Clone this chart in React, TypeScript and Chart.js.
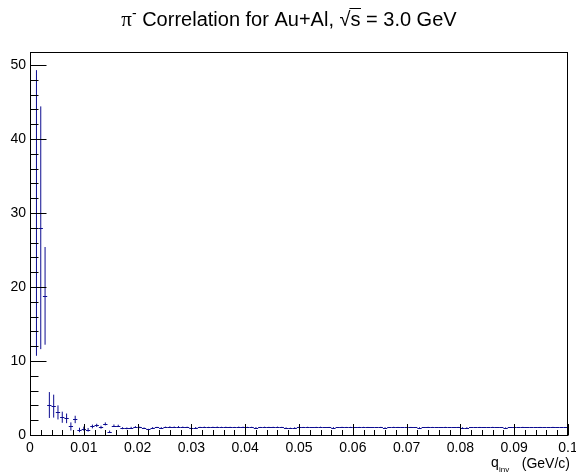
import React, { useEffect, useRef } from 'react';
import { Chart, registerables } from 'chart.js';

Chart.register(...registerables);

// Histogram definition: 125 bins of width 0.0008 GeV/c over [0, 0.1]
const BIN_WIDTH = 0.0008;
const Q_MIN = 0;
const Q_MAX = 0.1;
const Y_MIN = 0;
const Y_MAX = 51.75;

const X_TICKS = [0, 0.01, 0.02, 0.03, 0.04, 0.05, 0.06, 0.07, 0.08, 0.09, 0.1];
const X_TICK_LABELS = ['0', '0.01', '0.02', '0.03', '0.04', '0.05', '0.06', '0.07', '0.08', '0.09', '0.1'];
const Y_TICKS = [0, 10, 20, 30, 40, 50];
const Y_TICK_LABELS = ['0', '10', '20', '30', '40', '50'];

// Correlation value per bin (bins 1..125)
const CORRELATION = [
  0, 30.0, 28.0, 18.8, 4.05, 3.9, 3.05, 2.4, 2.25, 1.15,
  2.1, 0.68, 0.85, 0.7, 1.15, 1.3, 1.05, 1.5, 0.45, 1.26,
  1.24, 0.92, 0.9, 0.98, 1.08, 1.03, 0.92, 0.75, 0.98,
  1.02, 0.98, 1.05, 1.10, 1.07, 1.12, 1.06, 1.04, 0.98, 1.00, 1.03, 1.05, 1.02, 1.04, 1.06, 1.03,
  1.05, 1.04, 1.02, 1.06, 1.05, 1.03, 1.04, 1.00, 1.02, 1.05, 1.03, 1.04, 1.06, 1.03, 0.96, 0.92,
  0.98, 1.04, 1.03, 1.05, 1.02, 1.04, 1.06, 1.02, 1.03, 1.00, 1.02, 1.05, 1.03, 1.04, 1.02, 1.03,
  1.05, 1.04, 1.02, 1.03, 1.05, 1.01, 1.03, 1.06, 1.04, 1.02, 1.03, 1.04, 1.02, 1.01, 1.03, 1.05,
  1.04, 1.02, 1.03, 1.05, 1.03, 1.02, 1.04, 1.01, 1.00, 1.03, 1.02, 1.04, 1.03, 1.02, 1.05, 1.03,
  1.02, 1.01, 1.03, 1.02, 1.04, 1.06, 1.03, 1.02, 1.03, 1.05, 1.04, 1.02, 1.06, 1.04, 1.03, 1.02,
];

// Statistical error per bin
const ERRORS = [
  0, 19.3, 16.4, 6.6, 1.75, 1.55, 0.95, 0.75, 0.65, 0.55,
  0.5, 0.3, 0.28, 0.25, 0.25, 0.22, 0.2, 0.2, 0.15, 0.16,
  0.15, 0.13, 0.12, 0.12, 0.11, 0.1, 0.1, 0.09, 0.09,
  0.08, 0.08, 0.08, 0.08, 0.08, 0.08, 0.08, 0.08, 0.08, 0.08, 0.08, 0.08, 0.08, 0.08, 0.08, 0.08,
  0.07, 0.07, 0.07, 0.07, 0.07, 0.07, 0.07, 0.07, 0.07, 0.07, 0.07, 0.07, 0.07, 0.07, 0.07, 0.07,
  0.06, 0.06, 0.06, 0.06, 0.06, 0.06, 0.06, 0.06, 0.06, 0.06, 0.06, 0.06, 0.06, 0.06, 0.06, 0.06,
  0.05, 0.05, 0.05, 0.05, 0.05, 0.05, 0.05, 0.05, 0.05, 0.05, 0.05, 0.05, 0.05, 0.05, 0.05, 0.05,
  0.05, 0.05, 0.05, 0.05, 0.05, 0.05, 0.05, 0.05, 0.05, 0.05, 0.05, 0.05, 0.05, 0.05, 0.05, 0.05,
  0.04, 0.04, 0.04, 0.04, 0.04, 0.04, 0.04, 0.04, 0.04, 0.04, 0.04, 0.04, 0.04, 0.04, 0.04, 0.04,
];

const LINE_COLOR = '#0c0c90';
const FONT = '"Liberation Sans", Arial, Helvetica, sans-serif';
const SERIF = '"Liberation Serif", "DejaVu Serif", serif';

const errorBarsPlugin = {
  id: 'rootErrorBars',
  afterDatasetsDraw(chart: any) {
    const { ctx, chartArea: a, scales } = chart;
    const x = scales.x;
    const y = scales.y;
    ctx.save();
    ctx.beginPath();
    ctx.rect(a.left, a.top, a.right - a.left, a.bottom - a.top);
    ctx.clip();
    ctx.strokeStyle = LINE_COLOR;
    ctx.lineWidth = 1;
    const pts = chart.data.datasets[0].data as any[];
    for (const p of pts) {
      const xl = x.getPixelForValue(p.x - BIN_WIDTH / 2);
      const xr = x.getPixelForValue(p.x + BIN_WIDTH / 2);
      const xc = x.getPixelForValue(p.x);
      const yv = Math.round(y.getPixelForValue(p.y)) + 0.5;
      const yt = y.getPixelForValue(p.y + p.err);
      const yb = y.getPixelForValue(p.y - p.err);
      ctx.beginPath();
      ctx.moveTo(xl, yv);
      ctx.lineTo(xr, yv);
      if (p.err > 0) {
        ctx.moveTo(xc, yt);
        ctx.lineTo(xc, yb);
      }
      ctx.stroke();
    }
    ctx.restore();
  },
};

const framePlugin = {
  id: 'rootFrame',
  afterDraw(chart: any) {
    const { ctx, chartArea: a, scales } = chart;
    const x = scales.x;
    const y = scales.y;
    ctx.save();
    ctx.strokeStyle = '#000';
    ctx.lineWidth = 1;
    const L = Math.round(a.left) + 0.5;
    const R = Math.round(a.right) - 0.5;
    const T = Math.round(a.top) + 0.5;
    const B = Math.round(a.bottom) + 0.5;
    ctx.strokeRect(L, T, R - L, B - T);

    // y-axis ticks (inside)
    const yMajorLen = 16;
    const yMinorLen = 8;
    ctx.beginPath();
    for (let v = 0; v <= Y_MAX + 1e-9; v += 2) {
      const py = Math.round(y.getPixelForValue(v)) + 0.5;
      const major = Math.abs(v % 10) < 1e-9;
      ctx.moveTo(L, py);
      ctx.lineTo(L + (major ? yMajorLen : yMinorLen), py);
    }
    // x-axis ticks (inside)
    const xMajorLen = 11.5;
    const xMinorLen = 5.5;
    for (let i = 0; i <= 50; i++) {
      const v = i * 0.002;
      const px = Math.round(x.getPixelForValue(v)) + 0.5;
      const major = i % 5 === 0;
      ctx.moveTo(px, B);
      ctx.lineTo(px, B - (major ? xMajorLen : xMinorLen));
    }
    ctx.stroke();

    // Title
    ctx.fillStyle = '#000';
    ctx.textBaseline = 'alphabetic';
    ctx.textAlign = 'left';
    const big = `20px ${FONT}`;
    const piFont = `21px ${SERIF}`;
    const supFont = `14px ${FONT}`;
    const partA = ' Correlation for Au+Al, ';
    const partB = ' = 3.0 GeV';
    ctx.font = piFont;
    const wPi = ctx.measureText('π').width;
    ctx.font = supFont;
    const wSup = ctx.measureText('-').width;
    ctx.font = big;
    const wA = ctx.measureText(partA).width;
    const wRad = ctx.measureText('√').width;
    const wS = ctx.measureText('s').width;
    const wB = ctx.measureText(partB).width;
    const total = wPi + wSup + wA + wRad + wS + wB;
    let cx = 289 - total / 2;
    const base = 26;
    ctx.font = piFont;
    ctx.fillText('π', cx, base);
    cx += wPi;
    ctx.font = supFont;
    ctx.fillText('-', cx, base - 8);
    cx += wSup;
    ctx.font = big;
    ctx.fillText(partA, cx, base);
    cx += wA;
    ctx.fillText('√', cx, base);
    const radEnd = cx + wRad;
    cx += wRad;
    ctx.fillText('s', cx, base);
    cx += wS;
    ctx.beginPath();
    ctx.lineWidth = 1;
    ctx.moveTo(radEnd - 1, base - 17.5);
    ctx.lineTo(cx + 0.5, base - 17.5);
    ctx.stroke();
    ctx.fillText(partB, cx, base);

    // X-axis title: q_inv (GeV/c)
    const tFont = `14px ${FONT}`;
    const subFont = `8px ${FONT}`;
    ctx.textAlign = 'right';
    ctx.font = tFont;
    ctx.fillText('(GeV/c)', 570, 468);
    ctx.textAlign = 'left';
    ctx.fillText('q', 491, 467);
    ctx.font = subFont;
    ctx.fillText('inv', 499, 472);
    ctx.restore();
  },
};

export default function App() {
  const canvasRef = useRef<HTMLCanvasElement | null>(null);

  useEffect(() => {
    const canvas = canvasRef.current;
    if (!canvas) return;
    const points = CORRELATION.map((v, i) => ({
      x: (i + 0.5) * BIN_WIDTH,
      y: v,
      err: ERRORS[i],
    }));
    const chart = new Chart(canvas, {
      type: 'scatter',
      data: {
        datasets: [
          {
            label: 'π- correlation',
            data: points,
            pointRadius: 0,
            pointHoverRadius: 0,
            showLine: false,
            borderColor: LINE_COLOR,
            backgroundColor: LINE_COLOR,
          },
        ],
      },
      options: {
        animation: false,
        responsive: false,
        devicePixelRatio: 1,
        events: [],
        layout: { padding: { left: 8, right: 8, top: 52, bottom: 0 } },
        plugins: {
          legend: { display: false },
          tooltip: { enabled: false },
          title: { display: false },
        },
        scales: {
          x: {
            type: 'linear',
            min: Q_MIN,
            max: Q_MAX,
            grid: { display: false, drawTicks: false },
            border: { display: false },
            ticks: {
              autoSkip: false,
              maxRotation: 0,
              minRotation: 0,
              padding: 5,
              color: '#000',
              font: { family: FONT, size: 14 },
              callback: (v: any) => {
                const idx = X_TICKS.findIndex((t) => Math.abs(t - Number(v)) < 1e-9);
                return idx >= 0 ? X_TICK_LABELS[idx] : '';
              },
            },
            afterBuildTicks: (s: any) => {
              s.ticks = X_TICKS.map((v) => ({ value: v }));
            },
            afterFit: (s: any) => {
              s.height = 37;
              s.paddingLeft = 0;
              s.paddingRight = 0;
            },
          },
          y: {
            type: 'linear',
            min: Y_MIN,
            max: Y_MAX,
            grid: { display: false, drawTicks: false },
            border: { display: false },
            ticks: {
              autoSkip: false,
              padding: 4,
              color: '#000',
              font: { family: FONT, size: 14 },
              callback: (v: any) => {
                const idx = Y_TICKS.findIndex((t) => Math.abs(t - Number(v)) < 1e-9);
                return idx >= 0 ? Y_TICK_LABELS[idx] : '';
              },
            },
            afterBuildTicks: (s: any) => {
              s.ticks = Y_TICKS.map((v) => ({ value: v }));
            },
            afterFit: (s: any) => {
              s.width = 22;
              s.paddingTop = 0;
              s.paddingBottom = 0;
            },
          },
        },
      },
      plugins: [errorBarsPlugin, framePlugin],
    });
    return () => chart.destroy();
  }, []);

  return (
    <div style={{ position: 'fixed', left: 0, top: 0, width: 576, height: 472, background: '#fff' }}>
      <canvas ref={canvasRef} width={576} height={472} style={{ display: 'block' }} />
    </div>
  );
}
